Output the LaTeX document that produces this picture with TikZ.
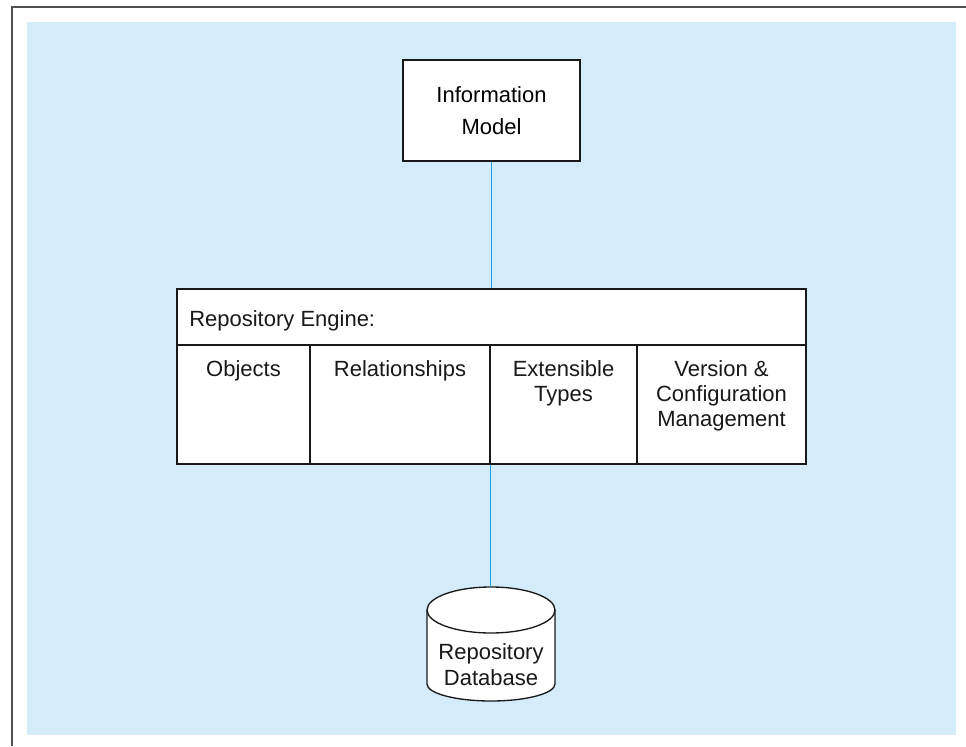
\documentclass[tikz,border=0pt]{standalone}
\usepackage{fontspec}
\setmainfont{Liberation Sans}
\usetikzlibrary{positioning}
\definecolor{paleblue}{RGB}{212,236,249}
\definecolor{wire}{RGB}{30,160,220}
\definecolor{rim}{RGB}{80,80,80}
\definecolor{ink}{RGB}{25,25,25}
\tikzset{
  x=0.75pt,y=0.75pt,
  box/.style={draw=ink,fill=white,line width=1pt,inner sep=0pt,align=center,
    font=\fontsize{16.5}{24}\selectfont},
  cell/.style={draw=ink,fill=white,line width=1pt,inner sep=0pt,minimum height=89.25pt},
  lbl/.style={inner sep=0pt,align=center,text=ink,font=\fontsize{16.5}{18.9}\selectfont},
  link/.style={draw=wire,line width=0.9pt},
}
\begin{document}
\begin{tikzpicture}
  \useasboundingbox (0,0) rectangle (966,746);
  % frame and background
  \draw[rim,line width=1.5pt] (12,0) -- (12,739) -- (966,739);
  \fill[paleblue] (27,11) rectangle (956,724);
  % information model
  \node[box,minimum width=132.75pt,minimum height=75.75pt] (info) at (491.5,635.5) {Information\\Model};
  % repository engine
  \node[box,minimum width=471.75pt,minimum height=42pt] (head) at (491.5,429) {};
  \node[lbl,anchor=base west] (headtxt) at (189,419) {Repository Engine:};
  \node[cell,minimum width=99.75pt] (obj) at (243.5,341.5) {};
  \node[cell,minimum width=135pt] (rel) at (400,341.5) {};
  \node[cell,minimum width=110.25pt] (ext) at (563.5,341.5) {};
  \node[cell,minimum width=126.75pt] (ver) at (721.5,341.5) {};
  \node[lbl,below=12pt of obj.north] (objtxt) {Objects};
  \node[lbl,below=12pt of rel.north] (reltxt) {Relationships};
  \node[lbl,below=12pt of ext.north] (exttxt) {Extensible\\Types};
  \node[lbl,below=12pt of ver.north] (vertxt) {Version \&\\Configuration\\Management};
  % database
  \coordinate (dbtop) at (491,159);
  \draw[ink,fill=white,line width=1pt] (427,136) -- (427,62)
    arc[start angle=180,end angle=360,x radius=64,y radius=17] -- (555,136);
  \draw[ink,fill=white,line width=1pt] (491,136) ellipse [x radius=64,y radius=23];
  \node[lbl,font=\fontsize{16.5}{19.5}\selectfont] (db) at (491,81.5) {Repository\\Database};
  % connectors
  \draw[link] (info.south) -- (head.north);
  \draw[link] (rel.south east) -- (rel.south east |- dbtop);
\end{tikzpicture}
\end{document}
